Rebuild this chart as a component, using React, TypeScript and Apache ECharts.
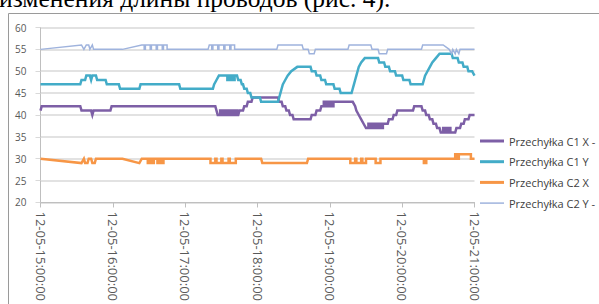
import React, { useEffect, useRef } from "react";
import * as echarts from "echarts";

const heading = "изменения длины проводов (рис. 4).";
const seriesNames = ["Przechyłka C1 X -", "Przechyłka C1 Y", "Przechyłka C2 X", "Przechyłka C2 Y -"];
const seriesColors = ["#7d5fa6", "#43acc8", "#f79646", "#9fb3dd"];
const seriesWidths = [2.5, 2.5, 2.5, 1.5];
const xTickLabels = ["12-05-15:00:00", "12-05-16:00:00", "12-05-17:00:00", "12-05-18:00:00", "12-05-19:00:00", "12-05-20:00:00", "12-05-21:00:00"];

// [minutes after 12-05 15:00, value]
const c1x: [number, number][] = [
  [0, 41], [1, 42], [33, 42], [34, 41], [42, 41], [43, 40], [44, 41], [58, 41], [59, 42],
  [145, 42], [146, 41], [147, 40], [149, 40], [149, 41], [151, 41], [151, 40], [153, 40], [153, 41], [155, 41], [155, 40], [157, 40], [157, 41], [159, 41], [159, 40], [161, 40], [161, 41], [163, 41], [163, 40], [164, 40],
  [165, 41], [168, 41], [169, 42], [171, 42], [172, 43], [175, 43], [176, 44], [197, 44], [198, 43], [200, 43], [201, 42], [203, 42], [204, 41], [206, 41], [207, 40], [209, 40], [210, 39], [224, 39],
  [225, 40], [228, 40], [229, 41], [232, 41], [233, 42], [235, 42], [235, 43], [237, 43], [237, 42], [239, 42], [239, 43], [241, 43], [241, 42], [243, 42], [243, 43], [259, 43],
  [261, 42], [262, 41], [264, 40], [266, 39], [268, 38], [270, 37], [272, 37], [272, 38], [274, 38], [274, 37], [276, 37], [276, 38], [278, 38], [278, 37], [280, 37], [280, 38], [282, 38], [282, 37], [284, 37], [284, 38],
  [288, 38], [289, 39], [292, 39], [293, 40], [295, 40], [296, 41], [309, 41], [310, 42], [316, 42], [317, 41], [319, 41], [320, 40], [322, 40], [323, 39], [325, 39], [326, 38], [328, 38], [329, 37], [331, 37], [332, 36],
  [334, 36], [334, 37], [336, 37], [336, 36], [338, 36], [338, 37], [340, 37], [340, 36], [344, 36], [345, 37], [348, 37], [349, 38], [351, 38], [352, 39], [355, 39], [356, 40], [360, 40],
];

const c1y: [number, number][] = [
  [0, 47], [33, 47], [34, 48], [37, 48], [38, 49], [41, 49], [42, 48], [43, 49], [46, 49], [47, 48], [54, 48], [55, 47], [65, 47], [66, 46], [82, 46], [83, 47], [115, 47], [116, 46], [143, 46],
  [144, 47], [146, 48], [148, 49], [155, 49], [155, 48], [157, 48], [157, 49], [159, 49], [159, 48], [161, 48], [161, 49], [163, 49], [164, 48], [166, 48], [167, 47], [168, 47], [169, 46], [171, 46], [172, 45], [174, 45], [175, 44], [182, 44], [183, 43], [197, 43],
  [198, 44], [199, 45], [200, 46], [201, 47], [203, 48], [205, 49], [208, 50], [213, 51], [224, 51], [225, 50], [228, 50], [229, 49], [232, 49], [233, 48], [236, 48], [237, 47], [243, 47], [244, 46], [248, 46], [249, 45], [258, 45],
  [259, 46], [260, 47], [261, 48], [262, 49], [263, 50], [264, 51], [266, 52], [269, 53], [280, 53], [281, 52], [285, 52], [286, 51], [289, 51], [290, 50], [294, 50], [295, 49], [300, 49], [301, 48], [306, 48], [307, 47], [317, 47],
  [318, 48], [319, 49], [321, 50], [323, 51], [325, 52], [328, 53], [331, 54], [341, 54], [342, 53], [346, 53], [347, 52], [350, 52], [351, 51], [354, 51], [355, 50], [358, 50], [360, 49],
];

const c2x: [number, number][] = [
  [0, 30], [34, 29], [36, 30], [37, 29], [39, 29], [40, 30], [42, 30], [43, 29], [45, 29], [46, 30], [68, 30], [82, 29], [84, 30],
  [89, 30], [89, 29], [91, 29], [91, 30], [92, 30], [92, 29], [94, 29], [94, 30], [97, 30], [97, 29], [99, 29], [99, 30], [100, 30], [100, 29], [102, 29], [102, 30],
  [141, 30], [141, 29], [145, 29], [145, 30], [146, 30], [146, 29], [150, 29], [150, 30], [151, 30], [151, 29], [156, 29], [156, 30], [157, 30], [157, 29], [162, 29], [162, 30],
  [183, 30], [184, 29], [221, 29], [222, 30], [257, 30], [257, 29], [261, 29], [261, 30], [262, 30], [262, 29], [266, 29], [266, 30], [267, 30], [267, 29], [270, 29], [270, 30],
  [278, 30], [278, 29], [282, 29], [282, 30], [318, 30], [318, 29], [320, 29], [320, 30], [344, 30], [344, 31], [346, 31], [346, 30], [347, 30], [347, 31], [357, 31], [357, 30], [360, 30],
];

const c2y: [number, number][] = [
  [0, 55], [34, 56], [36, 55], [38, 56], [40, 56], [41, 55], [43, 56], [44, 55], [68, 55], [84, 56],
  [86, 56], [86, 55], [87, 55], [87, 56], [91, 56], [91, 55], [92, 55], [92, 56], [96, 56], [96, 55], [97, 55], [97, 56], [101, 56], [101, 55], [102, 55], [102, 56], [105, 56], [105, 55],
  [139, 55], [140, 56], [142, 56], [142, 55], [143, 55], [143, 56], [147, 56], [147, 55], [148, 55], [148, 56], [152, 56], [152, 55], [153, 55], [153, 56], [157, 56], [157, 55], [158, 55], [158, 56], [161, 56], [161, 55],
  [196, 55], [197, 56], [217, 56], [218, 55], [222, 55], [223, 54], [227, 54], [228, 55], [255, 55], [256, 56], [274, 56], [275, 55], [280, 55], [281, 54], [287, 54], [288, 55],
  [316, 55], [317, 56], [334, 56], [339, 55], [341, 54], [342, 55], [344, 54], [345, 55], [347, 54], [348, 55], [360, 55],
];

const seriesData = [c1x, c1y, c2x, c2y];

const thickIcon = "path://M0,0L0,0M0,5.5H24V8.5H0ZM24,14L24,14";
const thinIcon = "path://M0,0L0,0M0,6.25H24V7.75H0ZM24,14L24,14";

export default function App() {
  const ref = useRef<HTMLDivElement>(null);
  useEffect(() => {
    const chart = echarts.init(ref.current!, null, { renderer: "svg" });
    const sansFont = "Open Sans";
    chart.setOption({
      animation: false,
      backgroundColor: "#ffffff",
      graphic: [
        {
          type: "text",
          silent: true,
          style: {
            text: heading,
            x: -1,
            y: -1.5,
            fontFamily: "Liberation Serif",
            fontSize: 25.5,
            fill: "#000000",
            verticalAlign: "middle",
          },
        },
        {
          type: "rect",
          silent: true,
          shape: { x: 8.5, y: 13.5, width: 620, height: 320 },
          style: { fill: "none", stroke: "#9a9a9a", lineWidth: 1 },
        },
      ],
      grid: { left: 40.5, right: 124.5, top: 27.5, bottom: 85, containLabel: false },
      xAxis: {
        type: "value",
        min: 0,
        max: 360,
        interval: 60,
        axisLine: { show: true, lineStyle: { color: "#bfbfbf", width: 1 } },
        axisTick: { show: true, length: 5, lineStyle: { color: "#bfbfbf" } },
        splitLine: { show: false },
        axisLabel: {
          rotate: -90,
          margin: 9,
          fontSize: 13,
          fontFamily: sansFont,
          color: "#595959",
          formatter: (v: number) => xTickLabels[Math.round(v / 60)] ?? "",
        },
      },
      yAxis: {
        type: "value",
        min: 20,
        max: 60,
        interval: 5,
        axisLine: { show: true, lineStyle: { color: "#bfbfbf", width: 1 } },
        axisTick: { show: true, length: 5, lineStyle: { color: "#d9d9d9" } },
        splitLine: { show: true, lineStyle: { color: "#d9d9d9", width: 1.5 } },
        axisLabel: { margin: 14, fontSize: 10, fontFamily: sansFont, color: "#595959" },
      },
      legend: {
        orient: "vertical",
        left: 480,
        top: 134,
        padding: 0,
        itemWidth: 24,
        itemHeight: 14,
        itemGap: 6.7,
        textStyle: { fontSize: 11, fontFamily: sansFont, color: "#404040" },
        data: seriesNames.map((name, i) => ({
          name,
          icon: seriesWidths[i] > 2 ? thickIcon : thinIcon,
          itemStyle: { color: seriesColors[i] },
        })),
      },
      series: seriesNames.map((name, i) => ({
        name,
        type: "line",
        data: seriesData[i],
        symbol: "none",
        showSymbol: false,
        color: seriesColors[i],
        lineStyle: { color: seriesColors[i], width: seriesWidths[i], join: "miter" },
        emphasis: { disabled: true },
      })),
    });
    return () => chart.dispose();
  }, []);
  return (
    <div
      ref={ref}
      style={{ position: "fixed", left: 0, top: 0, width: 599, height: 304 }}
    />
  );
}
